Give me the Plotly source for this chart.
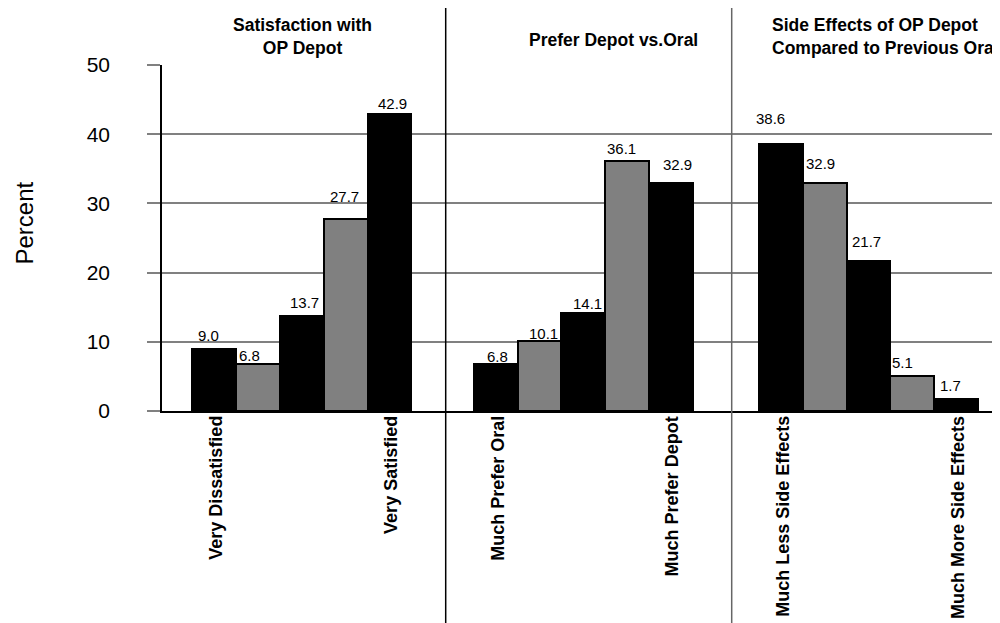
import plotly.graph_objects as go

# ---- data ----
group_titles = ["Satisfaction with<br>OP Depot", "Prefer Depot vs.Oral",
                "Side Effects of OP Depot<br>Compared to Previous Oral"]
satisfaction = [9.0, 6.8, 13.7, 27.7, 42.9]
preference = [6.8, 10.1, 14.1, 36.1, 32.9]
side_effects = [38.6, 32.9, 21.7, 5.1, 1.7]
end_labels = [("Very Dissatisfied", "Very Satisfied"),
              ("Much Prefer Oral", "Much Prefer Depot"),
              ("Much Less Side Effects", "Much More Side Effects")]
y_ticks = [0, 10, 20, 30, 40, 50]

# ---- layout / style (pixel calibrations in page coordinates) ----
OFF = 8                        # page body margin of the html
PAGE_W, PAGE_H = 1000, 623
W, H = PAGE_W, PAGE_H - OFF
PLOT_L, PLOT_T, PLOT_B = 162, 65, 411   # page pixels of plot area
PLOT_R = OFF + W
L, T = PLOT_L - OFF, PLOT_T - OFF
B = H - (PLOT_B - OFF)
PX = 43.8                      # pixels per bar slot
plot_h = PLOT_B - PLOT_T
group_start_px = [214.2, 495.7, 780.8]
group_start = [(p - PLOT_L) / PX for p in group_start_px]
bar_colors = ["#000000", "#808080", "#000000", "#808080", "#000000"]
label_dx = [[-6, -8.5, 3, -1, 3], [2, 3.5, 4, -6, 7], [-10, -4, -2.3, -9.3, -5.7]]
label_dy = [[13.7, 8, 14, 23, 10.7], [7.3, 8, 10.3, 12.7, 18.4], [25, 19.4, 19.3, 13.4, 13.3]]
FONT = "Liberation Sans, Arial, sans-serif"

series = [satisfaction, preference, side_effects]

fig = go.Figure()
annotations = []
for g, vals in enumerate(series):
    xs = [group_start[g] + i for i in range(len(vals))]
    fig.add_trace(go.Bar(
        x=xs, y=vals, width=1.0,
        marker=dict(color=bar_colors, line=dict(color="black", width=2)),
        showlegend=False, hoverinfo="x+y"))
    for i, (x, v) in enumerate(zip(xs, vals)):
        annotations.append(dict(
            x=x, y=v, xref="x", yref="y", text=f"{v:.1f}", showarrow=False,
            xanchor="center", yanchor="middle",
            xshift=label_dx[g][i], yshift=label_dy[g][i],
            font=dict(family=FONT, size=15, color="black")))
    # category end labels (rotated)
    for x, lab in [(xs[0], end_labels[g][0]), (xs[-1], end_labels[g][1])]:
        annotations.append(dict(
            x=x, y=0, xref="x", yref="paper", text=f"<b>{lab}</b>",
            textangle=-90, showarrow=False, xanchor="center", yanchor="top",
            xshift=1.5, yshift=-3,
            font=dict(family=FONT, size=18, color="black")))

# group headers
hdr_px = [(302, "center", 36), (613.7, "center", 40), (770.2, "left", 36)]
for (px, anchor, py), title in zip(hdr_px, group_titles):
    annotations.append(dict(
        x=(px - PLOT_L) / PX, y=(PLOT_B - py) / plot_h, xref="x", yref="paper",
        text=f"<b>{title}</b>", showarrow=False, xanchor=anchor, yanchor="middle",
        align=anchor, font=dict(family=FONT, size=17.5, color="black")))

# y-axis title
annotations.append(dict(
    x=0, y=(PLOT_B - 223.5) / plot_h, xref="paper", yref="paper", xshift=-(PLOT_L - 24),
    text="Percent", textangle=-90, showarrow=False, xanchor="center", yanchor="middle",
    font=dict(family=FONT, size=24, color="black")))

# panel separators
shapes = []
for px, col in [(445.7, "black"), (731.7, "#666666")]:
    shapes.append(dict(
        type="line", xref="x", yref="paper",
        x0=(px - PLOT_L) / PX, x1=(px - PLOT_L) / PX,
        y0=(PLOT_B - PAGE_H) / plot_h, y1=(PLOT_B - 7) / plot_h,
        line=dict(color=col, width=1.5)))

fig.update_layout(
    width=W, height=H,
    margin=dict(l=L, r=0, t=T, b=B, pad=0),
    plot_bgcolor="white", paper_bgcolor="white",
    annotations=annotations, shapes=shapes,
    bargap=0,
    xaxis=dict(range=[0, (PLOT_R - PLOT_L) / PX], showticklabels=False,
               ticks="", showgrid=False, zeroline=False,
               showline=True, linecolor="black", linewidth=1.5),
    yaxis=dict(range=[0, 50], tickvals=y_ticks, showgrid=True,
               gridcolor="#808080", gridwidth=1.5, zeroline=False,
               showline=True, linecolor="black", linewidth=1.5,
               ticks="outside", ticklen=13, tickcolor="#808080", tickwidth=1.5,
               ticklabelstandoff=33,
               tickfont=dict(family=FONT, size=21, color="black")),
)

fig.write_html("out.html")
